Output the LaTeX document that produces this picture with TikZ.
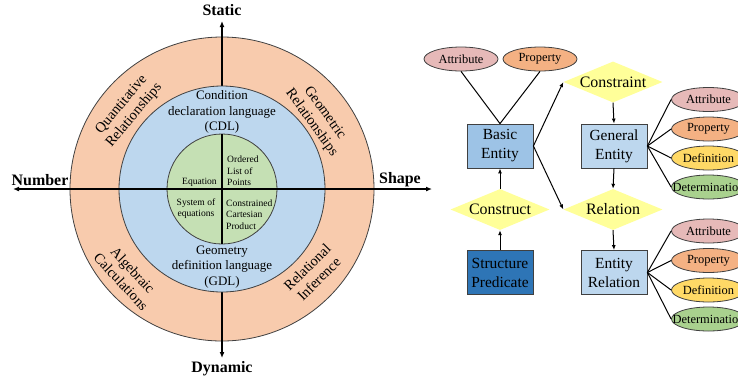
\documentclass[tikz,border=0pt]{standalone}
\usepackage{fontspec}
\setmainfont{Liberation Serif}
\usetikzlibrary{shapes.geometric,arrows.meta}

\definecolor{ringorange}{HTML}{F8CBAD}
\definecolor{ringblue}{HTML}{BDD7EE}
\definecolor{ringgreen}{HTML}{C5E0B4}
\definecolor{entityblue}{HTML}{9DC3E6}
\definecolor{lightentity}{HTML}{BDD7EE}
\definecolor{darkentity}{HTML}{2E75B6}
\definecolor{diamondyellow}{HTML}{FFFF99}
\definecolor{attrpink}{HTML}{E6B9B8}
\definecolor{proporange}{HTML}{F4B183}
\definecolor{defyellow}{HTML}{FFD966}
\definecolor{detgreen}{HTML}{A9D18E}
\definecolor{edgegray}{HTML}{404040}

\newcommand{\fsz}[2]{\fontsize{#1}{#2}\selectfont}

\tikzset{
  ringline/.style={draw=edgegray, line width=0.8bp},
  axisline/.style={line width=1.5bp, {Latex[length=6bp,width=5bp]}-{Latex[length=6bp,width=5bp]}},
  coreaxis/.style={line width=1.5bp},
  axislabel/.style={font=\fsz{16}{18}\bfseries, inner sep=0pt},
  ringtext/.style={font=\fsz{14.5}{16.5}, align=center, inner sep=0pt},
  langtext/.style={font=\fsz{13}{15.5}, align=center, inner sep=0pt},
  coretext/.style={font=\fsz{9.6}{11.5}, inner sep=0pt},
  entitybox/.style={rectangle, draw=edgegray, line width=0.8bp, minimum width=66bp,
    minimum height=44bp, align=center, inner sep=0pt, font=\fsz{15.5}{19}},
  relbox/.style={diamond, draw=none, fill=diamondyellow, minimum width=99bp,
    minimum height=41bp, aspect=2.4, inner sep=0pt, font=\fsz{16}{18}},
  propoval/.style={ellipse, draw=edgegray, line width=0.8bp, minimum width=74bp,
    minimum height=24bp, inner sep=0pt, font=\fsz{12.5}{14}},
  link/.style={line width=1bp},
  flow/.style={line width=1bp, -{Latex[length=5bp,width=4bp]}},
}

\begin{document}
\begin{tikzpicture}[x=1bp,y=-1bp]
\useasboundingbox (0,0) rectangle (738,381);

% ---------- concentric rings and axes ----------
\coordinate (o) at (222,189);
\coordinate (axW) at (13,189);
\coordinate (axE) at (432,189);
\coordinate (axN) at (222,21);
\coordinate (axS) at (222,358);
\coordinate (coreN) at (222,134);
\coordinate (coreS) at (222,244);

\draw[ringline, fill=ringorange] (o) circle[radius=152bp];
% vertical axis sits under the language ring
\draw[axisline] (axS) -- (axN);
\draw[ringline, fill=ringblue] (o) circle[radius=103bp];
\draw[ringline, fill=ringgreen] (o) circle[radius=55bp];
\draw[coreaxis] (coreN) -- (coreS);
\draw[axisline] (axW) -- (axE);

\node[axislabel] (static) at (222,10) {Static};
\node[axislabel] (dynamic) at (222,369) {Dynamic};
\node[axislabel] (number) at (40,180) {Number};
\node[axislabel] (shape) at (400,180) {Shape};

% ---------- outer ring labels ----------
\node[ringtext, rotate=50] (quant) at (128,110) {Quantitative\\Relationships};
\node[ringtext, rotate=-54] (geom) at (318,118) {Geometric\\Relationships};
\node[ringtext, rotate=-47] (alg) at (127,276) {Algebraic\\Calculations};
\node[ringtext, rotate=45] (reli) at (313,273) {Relational\\Inference};

% ---------- language labels ----------
\node[langtext] (cdl) at (222,112) {Condition\\declaration language\\(CDL)};
\node[langtext] (gdl) at (222,267) {Geometry\\definition language\\(GDL)};

% ---------- core quadrants ----------
\node[coretext] (equ) at (199.5,182) {Equation};
\node[coretext, align=left, anchor=west] (olp) at (227,171) {Ordered\\List of\\Points};
\node[coretext, align=center] (soe) at (196,208.5) {System of\\equations};
\node[coretext, align=left, anchor=west] (ccp) at (226,214.5) {Constrained\\Cartesian\\Product};

% ---------- entity graph ----------
\node[entitybox, fill=entityblue] (basic) at (500,146) {Basic\\Entity};
\node[entitybox, fill=lightentity] (general) at (614,146) {General\\Entity};
\node[entitybox, fill=darkentity] (struct) at (500,272.5) {Structure\\Predicate};
\node[entitybox, fill=lightentity] (entrel) at (614,272.5) {Entity\\Relation};

\node[relbox] (constraint) at (613,82) {Constraint};
\node[relbox] (construct) at (500,209.5) {Construct};
\node[relbox] (relation) at (613,209.5) {Relation};

\node[propoval, fill=attrpink] (battr) at (461,59) {Attribute};
\node[propoval, fill=proporange] (bprop) at (540,59) {Property};

\node[propoval, fill=attrpink] (gattr) at (708.5,99.5) {Attribute};
\node[propoval, fill=proporange] (gprop) at (708.5,129) {Property};
\node[propoval, fill=defyellow] (gdef) at (708.5,158) {Definition};
\node[propoval, fill=detgreen] (gdet) at (708.5,187) {\makebox[0pt]{Determination}};

\node[propoval, fill=attrpink] (rattr) at (708.5,231) {Attribute};
\node[propoval, fill=proporange] (rprop) at (708.5,260.5) {Property};
\node[propoval, fill=defyellow] (rdef) at (708.5,290) {Definition};
\node[propoval, fill=detgreen] (rdet) at (708.5,319) {\makebox[0pt]{Determination}};

% attribute / property links
\draw[link] (battr.south) -- (basic.north);
\draw[link] (bprop.south) -- (basic.north);
\foreach \e in {gattr,gprop,gdef,gdet}
  \draw[link] (general.east) -- (\e.west);
\foreach \e in {rattr,rprop,rdef,rdet}
  \draw[link] (entrel.east) -- (\e.west);

% flow arrows
\draw[flow] (basic.east) -- (constraint.west);
\draw[flow] (basic.east) -- (relation.west);
\draw[flow] (constraint.south) -- (general.north);
\draw[flow] (general.south) -- (relation.north);
\draw[flow] (relation.south) -- (entrel.north);
\draw[flow] (struct.north) -- (construct.south);
\draw[flow] (construct.north) -- (basic.south);
\end{tikzpicture}
\end{document}
